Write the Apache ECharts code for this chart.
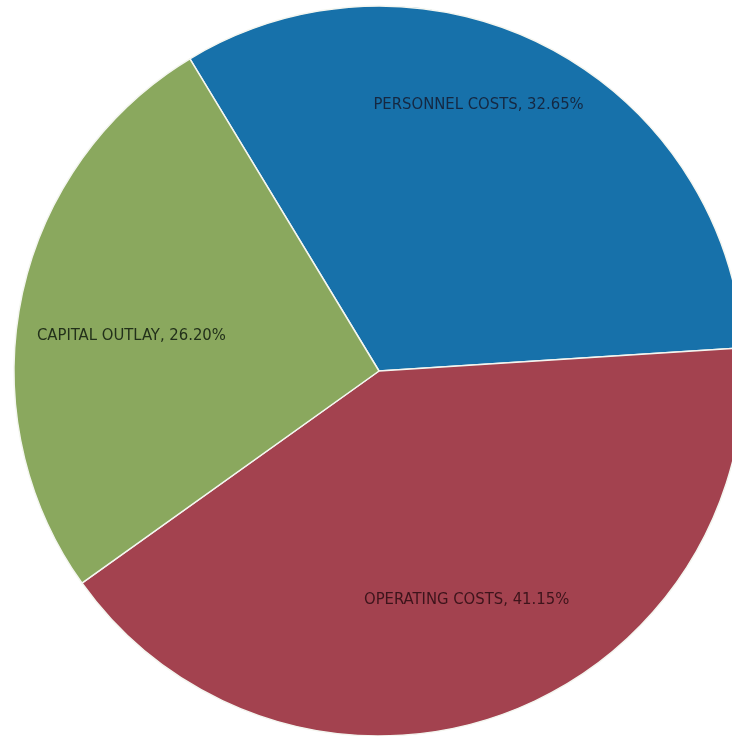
<!DOCTYPE html>
<html>
<head>
<meta charset="utf-8">
<style>
  html, body { margin: 0; padding: 0; background: #ffffff; }
  #chart { width: 732px; height: 736px; }
</style>
<script src="https://cdn.jsdelivr.net/npm/echarts@6/dist/echarts.min.js"></script>
</head>
<body>
<div id="chart"></div>
<script>
// Budget shares by expense class (percent of total)
const categories = ['PERSONNEL COSTS', 'OPERATING COSTS', 'CAPITAL OUTLAY'];
const shares = [32.65, 41.15, 26.20];

// Slice fills and label ink colours
const sliceColors = ['#1771aa', '#a3424f', '#8aa85e'];
const labelColors = ['#152842', '#3d141b', '#22301a'];
// Label placement: fraction of the radius, and turn (degrees, counter-clockwise) off the slice bisector
const labelRadiusFrac = [0.78, 0.67, 0.685];
const labelTurnDeg = [7.1, 1.4, 3.6];

const CX = 379, CY = 371, R = 365;

const chart = echarts.init(document.getElementById('chart'), null, { renderer: 'canvas' });

chart.setOption({
  backgroundColor: '#ffffff',
  animation: false,
  series: [{
    type: 'pie',
    center: [CX, CY],
    radius: [0, R],
    startAngle: 121.2,
    clockwise: true,
    avoidLabelOverlap: false,
    itemStyle: { borderColor: '#f4f6f0', borderWidth: 1.5 },
    label: {
      show: true,
      position: 'inside',
      fontFamily: '"DejaVu Sans Condensed", "Liberation Sans Narrow", sans-serif',
      fontSize: 16.5,
      formatter: p => p.name + ', ' + p.value.toFixed(2) + '%'
    },
    labelLine: { show: false },
    labelLayout: function (params) {
      const i = params.dataIndex;
      const lr = params.labelRect;
      const lx = lr.x + lr.width / 2;
      const ly = lr.y + lr.height / 2;
      const ang = Math.atan2(CY - ly, lx - CX) + labelTurnDeg[i] * Math.PI / 180;
      const target = R * labelRadiusFrac[i];
      const tx = CX + target * Math.cos(ang);
      const ty = CY - target * Math.sin(ang);
      return { dx: tx - lx, dy: ty - ly };
    },
    emphasis: { disabled: true },
    data: categories.map((name, i) => ({
      name: name,
      value: shares[i],
      itemStyle: { color: sliceColors[i] },
      label: { color: labelColors[i] }
    }))
  }]
});
</script>
</body>
</html>
